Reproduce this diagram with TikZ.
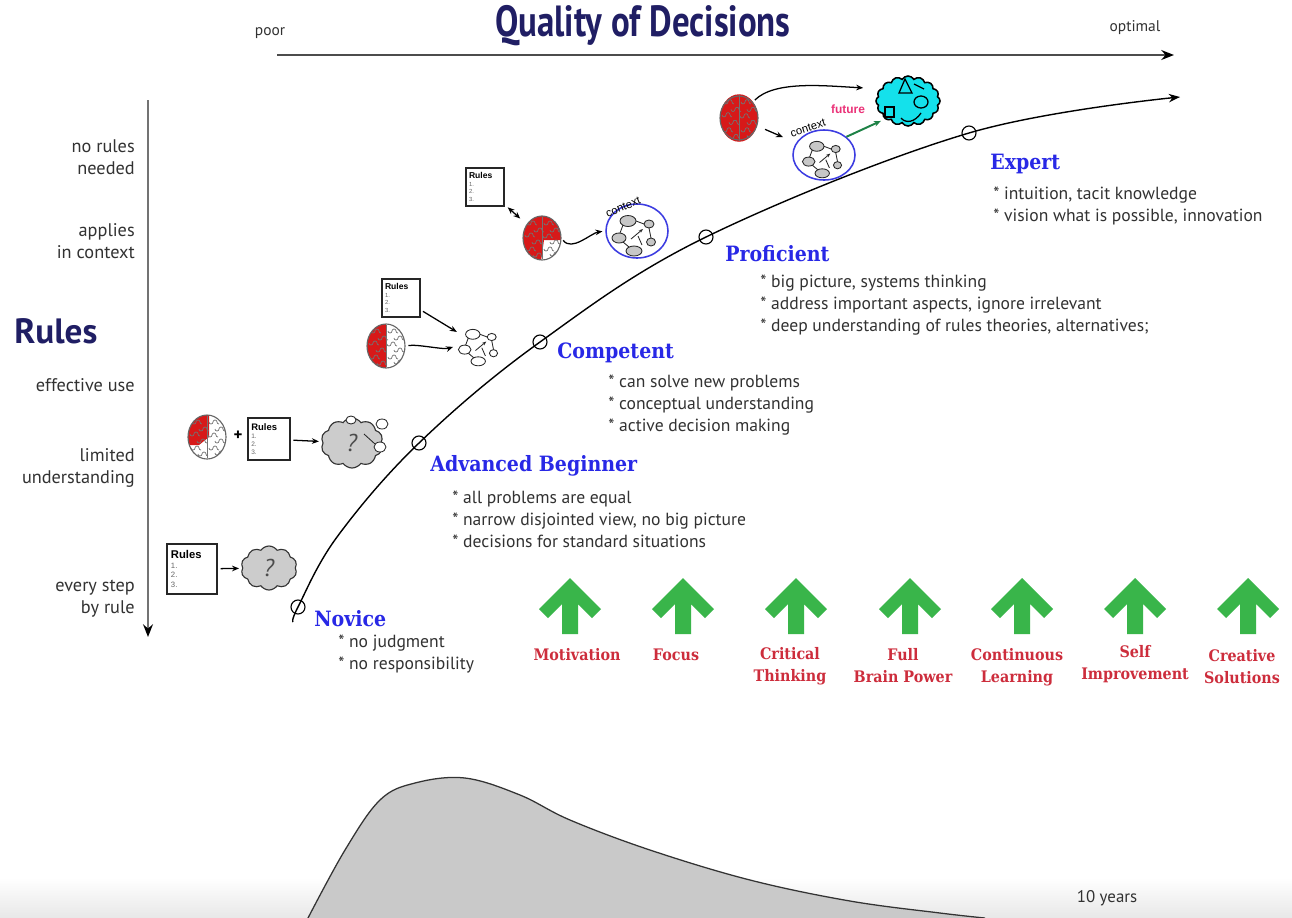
\documentclass[tikz,border=0pt]{standalone}
\usepackage{fontspec}
\setmainfont{PT Sans}
\newfontfamily\stagefont[FakeStretch=0.9]{DejaVu Serif}
\newfontfamily\titlefont[FakeStretch=0.8]{PT Sans}
\newfontfamily\cardfont{Liberation Sans}
\usetikzlibrary{arrows.meta,positioning,shapes.geometric,shapes.symbols}

\definecolor{titlenavy}{RGB}{32,30,100}
\definecolor{stageblue}{RGB}{40,40,230}
\definecolor{skillred}{RGB}{205,45,60}
\definecolor{arrowgreen}{RGB}{57,181,74}
\definecolor{futuregreen}{RGB}{30,130,70}
\definecolor{brainred}{RGB}{215,25,25}
\definecolor{textgray}{RGB}{50,50,50}
\definecolor{futurepink}{RGB}{235,50,120}
\definecolor{contextblue}{RGB}{60,60,225}
\definecolor{blobcyan}{RGB}{20,225,235}

\newcommand{\ruleslist}{\textcolor{black}{\fontsize{8}{8}\selectfont\bfseries Rules}\\1.\\2.\\3.}

\tikzset{
  axisline/.style={line width=1.6pt, black!70, -{Stealth[length=9pt,width=7pt,black]}},
  axislabel/.style={font=\fontsize{11}{13}\selectfont, text=textgray},
  title/.style={font=\titlefont\bfseries\fontsize{31}{35}\selectfont, text=titlenavy},
  rulelevel/.style={font=\fontsize{13}{15.6}\selectfont, text=textgray, align=right, anchor=east, inner sep=0},
  stagename/.style={font=\stagefont\bfseries\fontsize{15}{18}\selectfont, text=stageblue, anchor=west, inner sep=0},
  stagenotes/.style={font=\fontsize{12.5}{15.6}\selectfont, text=textgray, align=left, anchor=west, inner sep=0},
  stagedot/.style={circle, draw, line width=0.8pt, minimum size=0.35cm, inner sep=0},
  curveline/.style={line width=1pt, -{Stealth[length=8pt,width=6pt]}},
  skillarrow/.style={fill=arrowgreen},
  skilllabel/.style={font=\stagefont\bfseries\fontsize{11.3}{15.6}\selectfont, text=skillred, align=center, inner sep=0},
  rulescard/.style={draw=black!85, line width=1pt, fill=white, align=left, inner sep=2pt,
    font=\cardfont\fontsize{5.5}{7}\selectfont\color{black!60},
    minimum width=1.25cm, minimum height=1.25cm, text width=1.05cm},
  sketcharrow/.style={line width=0.9pt, -{Stealth[length=5pt,width=4pt]}, shorten <=2pt, shorten >=2pt},
  thinkcloud/.style={cloud, cloud puffs=10, cloud puff arc=110, aspect=1.3, draw=black!80, line width=0.8pt,
    fill=black!20, inner sep=0, minimum width=1.4cm, minimum height=1.1cm, font=\LARGE\itshape, text=black!70},
  brainshape/.style={ellipse, draw=black!60, line width=0.8pt, minimum width=0.95cm, minimum height=1.1cm, inner sep=0},
  brainfold/.style={black!55, line width=0.5pt},
  contextring/.style={ellipse, draw=contextblue, line width=1.1pt, minimum width=1.55cm, minimum height=1.35cm, inner sep=0},
  contextlabel/.style={font=\cardfont\fontsize{8}{9}\selectfont, inner sep=0},
  netoval/.style={draw=black!85, line width=0.6pt},
  netlink/.style={black!85, line width=0.6pt},
  netspot/.style={circle, minimum size=1.2cm, inner sep=0},
  brain/.pic={
    \fill[white] (0,0) ellipse (19 and 22);
    \begin{scope}
      \clip (0,0) ellipse (19 and 22);
      \fill[brainred] #1;
      \foreach \fx/\fy in {-11/-15,-4/-8,-13/-3,-6/4,-12/11,-5/17,6/-15,12/-8,5/-2,12/4,6/11,12/16}
        \draw[brainfold] (\fx-4,\fy) arc (180:0:2) arc (180:360:2) arc (180:90:2);
    \end{scope}
    \draw[brainfold] (0,-21) -- (0,21);
    \node[brainshape] (-b) {};
  },
  netsketch/.pic={
    \foreach \ox/\oy/\rx/\ry in {-8/-13/8/5.5, 13/-10/5/4, -17/4/7/5, 15/8/4.5/4, -2/17/8/5}
      \draw[netoval, fill=#1] (\ox,\oy) ellipse ({\rx} and {\ry});
    \draw[netlink] (0,-13) -- (8,-10);
    \draw[netlink] (-13,-9) -- (-16,-1);
    \draw[netlink] (13,-6) -- (15,4);
    \draw[netlink] (-13,8) -- (-7,13);
    \draw[netlink, -{Stealth[length=3pt]}] (-5,5) -- (7,-5);
    \draw[netlink] (2,2) -- (6,11);
    \node[netspot] (-n) {};
  }
}

\begin{document}
\begin{tikzpicture}[x=0.025cm,y=-0.025cm]
\useasboundingbox (0,0) rectangle (1292,917);
\fill[white] (0,0) rectangle (1292,917);
\shade[top color=white, bottom color=black!9] (0,878) rectangle (1292,917);

% quality axis
\coordinate (q-start) at (277,55);
\coordinate (q-end) at (1174,55);
\draw[axisline] (q-start) -- (q-end);
\node[title] (title) at (643,26) {Quality of Decisions};
\node[axislabel] (poor) at (270,33) {poor};
\node[axislabel] (optimal) at (1135,28) {optimal};

% rules axis
\coordinate (r-start) at (148,100);
\coordinate (r-end) at (148,637);
\draw[axisline, line width=1.3pt, black!55] (r-start) -- (r-end);
\node[font=\bfseries\fontsize{25}{30}\selectfont, text=titlenavy, anchor=west, inner sep=0] (rules) at (14,331) {Rules};
\node[rulelevel] (lv-5) at (135,157) {no rules\\needed};
\node[rulelevel] (lv-4) at (135,241) {applies\\in context};
\node[rulelevel] (lv-3) at (135,385) {effective use};
\node[rulelevel] (lv-2) at (135,468) {limited\\understanding};
\node[rulelevel] (lv-1) at (135,599) {every step\\by rule};

% learning curve
\coordinate (c-0) at (293,622);
\coordinate (c-1) at (337,537);
\coordinate (c-end) at (1180,97);
\node[stagedot] (nov) at (298,607) {};
\node[stagedot] (adv) at (419,443) {};
\node[stagedot] (com) at (540,342) {};
\node[stagedot] (pro) at (706,237) {};
\node[stagedot] (exp) at (969,133) {};
\draw[curveline] plot[smooth, tension=0.6] coordinates {(c-0) (nov) (c-1) (adv) (com) (pro) (exp) (c-end)};

% stages
\node[stagename] (nov-t) at (314,619) {Novice};
\node[stagenotes] (nov-n) at (338,654) {* no judgment\\* no responsibility};
\node[stagename] (adv-t) at (430,466) {Advanced Beginner};
\node[stagenotes] (adv-n) at (452,519) {* all problems are equal\\* narrow disjointed view, no big picture\\* decisions for standard situations};
\node[stagename] (com-t) at (557,353) {Competent};
\node[stagenotes] (com-n) at (608,405) {* can solve new problems\\* conceptual understanding\\* active decision making};
\node[stagename] (pro-t) at (725,254) {Proficient};
\node[stagenotes] (pro-n) at (760,305) {* big picture, systems thinking\\* address important aspects, ignore irrelevant\\* deep understanding of rules theories, alternatives;};
\node[stagename] (exp-t) at (990,164) {Expert};
\node[stagenotes] (exp-n) at (993,206) {* intuition, tacit knowledge\\* vision what is possible, innovation};

% novice sketch
\node[rulescard] (nv-card) at (192,569) {\ruleslist};
\node[thinkcloud] (nv-cloud) at (269,568) {?};
\draw[sketcharrow] (nv-card) -- (nv-cloud);

% advanced beginner sketch
\pic (ab) at (207,437) {brain={(-25,-30) -- (2,-30) -- (2,0) -- (-8,8) -- (-25,8) -- cycle}};
\node[font=\bfseries\large] (ab-plus) at (238,436) {+};
\node[rulescard, scale=0.84] (ab-card) at (269,439) {\ruleslist};
\node[thinkcloud, minimum width=1.55cm, minimum height=1.25cm] (ab-cloud) at (352,443) {?};
\draw[netoval, fill=white] (351,420) ellipse (5 and 4);
\draw[netoval, fill=white] (382,424) ellipse (6 and 5);
\draw[netoval, fill=white] (380,447) ellipse (6 and 5);
\draw[netlink] (364,434) -- (375,444);
\draw[sketcharrow] (ab-card) -- (ab-cloud);

% competent sketch
\node[rulescard, scale=0.76] (cp-card) at (401,298) {\ruleslist};
\pic (cp) at (386,346) {brain={(-25,-30) rectangle (0,30)}};
\pic[scale=0.9] (cpnet) at (480,346) {netsketch=white};
\draw[sketcharrow] (cp-card) -- (cpnet-n);
\draw[sketcharrow] (cp-b.east) .. controls +(12,-2) and +(-12,4) .. (cpnet-n.west);

% proficient sketch
\node[rulescard, scale=0.76] (pr-card) at (485,187) {\ruleslist};
\pic (pr) at (542,238) {brain={(-25,-30) -- (25,-30) -- (25,2) -- (2,2) -- (-2,30) -- (-25,30) -- cycle}};
\node[contextring] (pr-ctx) at (637,231) {};
\pic (prnet) at (636,234) {netsketch=black!22};
\node[contextlabel, rotate=22] (pr-ctxlabel) at (623,207) {context};
\draw[sketcharrow, {Stealth[length=5pt,width=4pt]}-{Stealth[length=5pt,width=4pt]}, shorten <=3pt, shorten >=6pt] (pr-card) -- (pr-b);
\draw[sketcharrow] (pr-b.east) .. controls +(10,14) and +(-14,2) .. (pr-ctx.west);

% expert sketch
\pic[yscale=1.08] (ex) at (739,118) {brain={(-25,-30) rectangle (25,30)}};
\node[contextring, minimum height=1.25cm] (ex-ctx) at (824,155) {};
\pic[scale=0.9] (exnet) at (824,158) {netsketch=black!22};
\node[contextlabel, rotate=18] (ex-ctxlabel) at (808,128) {context};
\node[cloud, cloud puffs=16, cloud puff arc=120, aspect=1.3, draw, line width=1.1pt, fill=blobcyan,
  minimum width=1.6cm, minimum height=1.25cm, inner sep=0] (ex-blob) at (908,101) {};
\draw[line width=0.9pt] (899,93) -- (905,79) -- (912,93) -- cycle;
\draw[line width=0.9pt] (921,102) ellipse (7 and 6);
\draw[line width=0.9pt] (885,107) rectangle (894,117);
\draw[line width=0.9pt] (901,118) .. controls (906,124) and (915,122) .. (921,113);
\draw[line width=0.9pt] (914,84) -- (924,89);
\node[font=\cardfont\bfseries\fontsize{8.5}{10}\selectfont, text=futurepink] (ex-future) at (848,109) {future};
\coordinate (ex-aim) at (866,88);
\draw[sketcharrow] (ex-b.north east) .. controls +(22,-22) and +(-40,-2) .. (ex-aim);
\draw[sketcharrow, shorten <=6pt, shorten >=10pt] (ex-b) -- (ex-ctx);
\draw[sketcharrow, futuregreen, line width=1.4pt, shorten <=0pt, shorten >=3pt] (ex-ctx.north east) -- (ex-blob.south west);

% skills
\foreach \gx in {570,683,796,910,1022,1135,1248}
  \fill[skillarrow] (\gx,578) -- ++(31,31) -- ++(-9,9) -- ++(-14,-14) -- ++(0,30) -- ++(-16,0) -- ++(0,-30) -- ++(-14,14) -- ++(-9,-9) -- cycle;
\node[skilllabel] (sk-mot) at (577,655) {Motivation};
\node[skilllabel] (sk-foc) at (676,655) {Focus};
\node[skilllabel] (sk-cri) at (790,666) {Critical\\Thinking};
\node[skilllabel] (sk-bra) at (903,666) {Full\\Brain Power};
\node[skilllabel] (sk-con) at (1017,667) {Continuous\\Learning};
\node[skilllabel] (sk-imp) at (1135,664) {Self\\Improvement};
\node[skilllabel] (sk-sol) at (1242,667) {Creative\\Solutions};

% experience distribution
\fill[black!21] plot[smooth, tension=0.6] coordinates {(308,918) (345,850) (380,800) (415,783) (465,778) (520,795) (570,820) (650,850) (750,880) (850,901) (940,913) (985,918)} -- cycle;
\draw[line width=0.9pt, black!80] plot[smooth, tension=0.6] coordinates {(308,918) (345,850) (380,800) (415,783) (465,778) (520,795) (570,820) (650,850) (750,880) (850,901) (940,913) (985,918)};
\node[axislabel, font=\fontsize{12}{14}\selectfont] (years) at (1107,898) {10 years};
\end{tikzpicture}
\end{document}
